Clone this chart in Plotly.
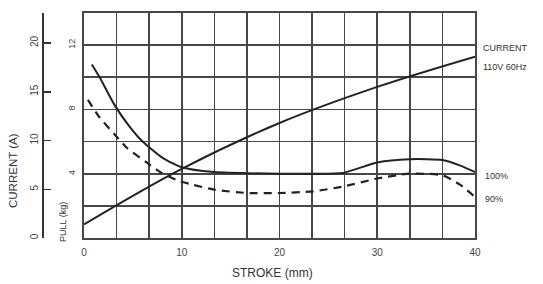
import plotly.graph_objects as go

# Data
stroke_current = [0, 10, 20, 30, 40]
current_a = [1.4, 7.1, 11.8, 15.5, 18.6]

stroke_pull100 = [0.8, 1.6, 3.1, 4.7, 6.0, 8.0, 10.0, 13.3, 20.0, 23.4, 26.5, 30.0, 33.3, 36.7, 38.5, 40.0]
pull_100 = [10.8, 10.0, 8.3, 6.9, 6.0, 5.0, 4.4, 4.1, 4.0, 4.0, 4.05, 4.7, 4.9, 4.85, 4.5, 4.1]

stroke_pull90 = [0.4, 1.6, 3.2, 4.4, 6.4, 7.8, 9.5, 11.2, 13.4, 16.7, 20.0, 23.4, 26.5, 30.0, 33.3, 36.7, 38.5, 40.0]
pull_90 = [8.6, 7.5, 6.4, 5.6, 4.7, 4.1, 3.6, 3.3, 3.0, 2.8, 2.8, 2.9, 3.2, 3.7, 4.0, 3.9, 3.3, 2.55]

x_labels = ["0", "10", "20", "30", "40"]
pull_labels = {4: "4", 8: "8", 12: "12"}
current_ticks = [0, 5, 10, 15, 20]

FONT = "Liberation Sans, Arial, sans-serif"
INK = "#222222"
GRID = "#474747"

W, H = 543, 284
ML, MR, MT, MB = 30, 68, 13, 46
paper_w = W - ML - MR
paper_h = H - MT - MB
x_dom0 = (84 - ML) / paper_w
cur_pos = (43 - ML) / paper_w

x_grid = [i * 10 / 3 for i in range(13)]
x_text = [x_labels[i // 3] if i % 3 == 0 else "" for i in range(13)]
y_grid = list(range(0, 15, 2))
y_text = [pull_labels.get(v, "") for v in y_grid]

fig = go.Figure()
fig.add_trace(go.Scatter(x=stroke_current, y=current_a, mode="lines", yaxis="y2",
                         line=dict(color=INK, width=2, shape="spline", smoothing=1.0),
                         showlegend=False, hoverinfo="skip"))
fig.add_trace(go.Scatter(x=stroke_pull100, y=pull_100, mode="lines",
                         line=dict(color=INK, width=2, shape="spline", smoothing=0.6),
                         showlegend=False, hoverinfo="skip"))
fig.add_trace(go.Scatter(x=stroke_pull90, y=pull_90, mode="lines",
                         line=dict(color=INK, width=2.2, shape="spline", smoothing=0.6, dash="8px,6px"),
                         showlegend=False, hoverinfo="skip"))

fig.update_layout(
    width=W, height=H,
    margin=dict(l=ML, r=MR, t=MT, b=MB, autoexpand=False),
    paper_bgcolor="white", plot_bgcolor="white",
    font=dict(family=FONT, color="#333333", size=10),
    xaxis=dict(domain=[x_dom0, 1], range=[0, 40], tickvals=x_grid, ticktext=x_text,
               showgrid=True, gridcolor=GRID, gridwidth=1.6, zeroline=False,
               showline=True, linecolor=GRID, linewidth=1.6, mirror=True, automargin=False,
               ticks="", tickfont=dict(size=10, color="#444444"), ticklabelstandoff=4),
    yaxis=dict(range=[0, 14], tickvals=y_grid, ticktext=y_text, automargin=False,
               showgrid=True, gridcolor=GRID, gridwidth=1.6, zeroline=False,
               showline=True, linecolor=GRID, linewidth=1.6, mirror=True,
               ticks="", tickangle=-90, tickfont=dict(size=9, color="#444444"),
               ticklabelstandoff=4),
    yaxis2=dict(range=[0, 23.08], overlaying="y", anchor="free", position=cur_pos,
                side="left", tickvals=current_ticks, showgrid=False, zeroline=False,
                showline=True, linecolor="#333333", linewidth=2.2, automargin=False,
                ticks="inside", ticklen=7, tickwidth=1.5, tickcolor="#333333",
                tickangle=-90, tickfont=dict(size=10, color="#444444")),
)

ann = [
    dict(text="CURRENT (A)", x=13, y=171, size=11.5, angle=-90, anchor="center"),
    dict(text="PULL (kg)", x=63, y=222, size=9, angle=-90, anchor="center"),
    dict(text="STROKE (mm)", x=272, y=273, size=12, angle=0, anchor="center"),
    dict(text="CURRENT", x=481, y=48, size=9, angle=0, anchor="left"),
    dict(text="110V 60Hz", x=481, y=67, size=9, angle=0, anchor="left"),
    dict(text="100%", x=483, y=176, size=9, angle=0, anchor="left"),
    dict(text="90%", x=483, y=199, size=9, angle=0, anchor="left"),
]
for a in ann:
    fig.add_annotation(text=a["text"], xref="paper", yref="paper",
                       x=(a["x"] - ML) / paper_w, y=1 - (a["y"] - MT) / paper_h,
                       xanchor=a["anchor"], yanchor="middle", textangle=a["angle"],
                       showarrow=False, font=dict(size=a["size"], color="#333333", family=FONT))

fig.write_html("out.html", config={"displayModeBar": False, "staticPlot": True},
               post_script="document.body.style.margin='0';document.body.style.overflow='hidden';")
